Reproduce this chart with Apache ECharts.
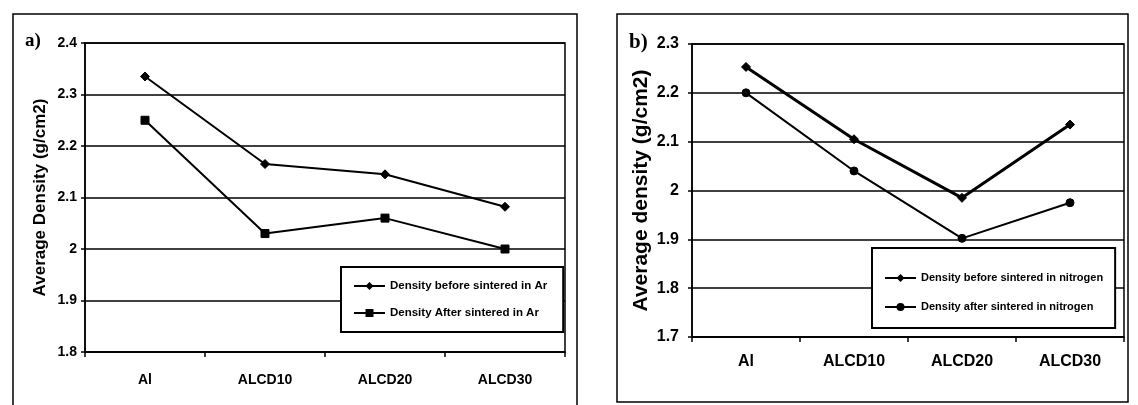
<!DOCTYPE html>
<html><head><meta charset="utf-8">
<script src="https://cdn.jsdelivr.net/npm/echarts@6/dist/echarts.min.js"></script>
<style>html,body{margin:0;padding:0;background:#fff}#c{width:1138px;height:405px}</style>
</head><body><div id="c"></div>
<script>
const categories = ['Al', 'ALCD10', 'ALCD20', 'ALCD30'];
const aBefore = [2.335, 2.165, 2.145, 2.082];
const aAfter = [2.25, 2.03, 2.06, 2.0];
const bBefore = [2.253, 2.105, 1.985, 2.135];
const bAfter = [2.2, 2.04, 1.902, 1.975];
const aTicks = {min: 1.8, max: 2.4, interval: 0.1};
const bTicks = {min: 1.7, max: 2.3, interval: 0.1};
const names = {
  aBefore: 'Density before sintered in Ar',
  aAfter: 'Density After sintered in Ar',
  bBefore: 'Density before sintered in nitrogen',
  bAfter: 'Density after sintered in nitrogen'
};

const F = 'Liberation Sans, Arial, sans-serif';
const chart = echarts.init(document.getElementById('c'), null, {renderer: 'canvas'});

function xAx(gi, fs, margin) {
  return {
    type: 'category', gridIndex: gi, data: categories, boundaryGap: true,
    axisLine: {lineStyle: {color: '#000', width: 1.5}},
    axisTick: {show: true, length: 5, lineStyle: {color: '#000', width: 1.5}},
    axisLabel: {color: '#000', fontFamily: F, fontWeight: 'bold', fontSize: fs, margin: margin},
    splitLine: {show: false}
  };
}
function yAx(gi, t, name, fs, nfs, gap, margin) {
  return {
    type: 'value', gridIndex: gi, min: t.min, max: t.max, interval: t.interval,
    name: name, nameLocation: 'middle', nameGap: gap,
    nameTextStyle: {color: '#000', fontFamily: F, fontWeight: 'bold', fontSize: nfs},
    axisLine: {show: true, lineStyle: {color: '#000', width: 1.5}},
    axisTick: {show: true, length: 4, lineStyle: {color: '#000', width: 1.5}},
    axisLabel: {color: '#000', fontFamily: F, fontWeight: 'bold', fontSize: fs, margin: margin,
      formatter: v => String(Math.round(v * 10) / 10)},
    splitLine: {show: true, lineStyle: {color: '#000', width: 1.5}}
  };
}
function ser(name, data, gi, sym, ss, lw) {
  return {
    type: 'line', name: name, data: data, xAxisIndex: gi, yAxisIndex: gi,
    symbol: sym, symbolSize: ss, showSymbol: true,
    lineStyle: {color: '#000', width: lw},
    itemStyle: {color: '#000', borderColor: '#000'},
    animation: false
  };
}

chart.setOption({
  animation: false,
  backgroundColor: '#fff',
  grid: [
    {left: 85, top: 43, width: 480, height: 309, show: true, borderColor: '#000', borderWidth: 1.5, backgroundColor: 'transparent'},
    {left: 692, top: 44, width: 432, height: 293, show: true, borderColor: '#000', borderWidth: 1.5, backgroundColor: 'transparent'}
  ],
  xAxis: [xAx(0, 14, 21), xAx(1, 16, 17)],
  yAxis: [
    yAx(0, aTicks, 'Average Density (g/cm2)', 14, 17, 36, 8),
    yAx(1, bTicks, 'Average density (g/cm2)', 16, 21, 40, 13)
  ],
  legend: [
    {data: [names.aBefore, names.aAfter], orient: 'vertical', left: 341, top: 267,
     padding: [12, 16, 12, 12], itemGap: 13, itemWidth: 31, itemHeight: 10,
     borderColor: '#000', borderWidth: 2, backgroundColor: '#fff',
     textStyle: {color: '#000', fontFamily: F, fontWeight: 'bold', fontSize: 11.5, lineHeight: 14}},
    {data: [names.bBefore, names.bAfter], orient: 'vertical', left: 872, top: 248,
     padding: [23, 12, 14, 12], itemGap: 15, itemWidth: 31, itemHeight: 10,
     borderColor: '#000', borderWidth: 2, backgroundColor: '#fff',
     textStyle: {color: '#000', fontFamily: F, fontWeight: 'bold', fontSize: 11, lineHeight: 14}}
  ],
  graphic: [
    {type: 'polyline', shape: {points: [[13, 405], [13, 14], [577, 14], [577, 405]]}, style: {stroke: '#000', lineWidth: 1.5, fill: null}, silent: true},
    {type: 'rect', shape: {x: 617, y: 14, width: 511, height: 388}, style: {stroke: '#000', lineWidth: 1.5, fill: null}, silent: true},
    {type: 'text', left: 25, top: 32, style: {text: 'a)', font: 'bold 19px "Liberation Serif", "DejaVu Serif", serif', fill: '#000'}},
    {type: 'text', left: 629, top: 32, style: {text: 'b)', font: 'bold 21px "Liberation Serif", "DejaVu Serif", serif', fill: '#000'}}
  ],
  series: [
    ser(names.aBefore, aBefore, 0, 'diamond', 9, 2),
    ser(names.aAfter, aAfter, 0, 'rect', 8, 2),
    ser(names.bBefore, bBefore, 1, 'diamond', 9, 3),
    ser(names.bAfter, bAfter, 1, 'circle', 8, 2)
  ]
});
</script></body></html>
